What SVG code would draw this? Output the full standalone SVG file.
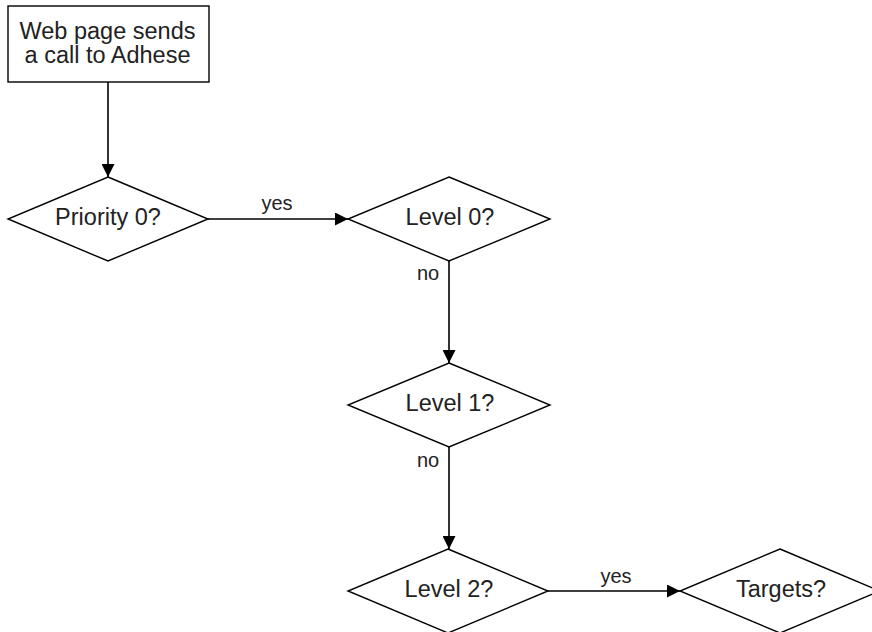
<svg xmlns="http://www.w3.org/2000/svg" width="872" height="632" viewBox="0 0 872 632">
<defs>
<marker id="arrv" viewBox="0 0 12 12" refX="12" refY="6" markerWidth="13" markerHeight="13" markerUnits="userSpaceOnUse" orient="auto">
<path d="M0,0 L12,6 L0,12 z" fill="#000"/>
</marker>
</defs>
<style>
.n{fill:#fff;stroke:#000;stroke-width:1.4}
.t{font-family:"Liberation Sans",Arial,sans-serif;font-size:23.5px;fill:#222;text-anchor:middle}
.l{font-family:"Liberation Sans",Arial,sans-serif;font-size:20px;fill:#222;text-anchor:middle}
.c{stroke:#000;stroke-width:1.6;fill:none}
</style>
<rect width="872" height="632" fill="#fff"/>
<g id="connectors">
<line class="c" x1="108" y1="82" x2="108" y2="177" marker-end="url(#arrv)"/>
<line class="c" x1="208" y1="219" x2="348" y2="219" marker-end="url(#arrv)"/>
<line class="c" x1="449" y1="261" x2="449" y2="363" marker-end="url(#arrv)"/>
<line class="c" x1="449" y1="447" x2="449" y2="549" marker-end="url(#arrv)"/>
<line class="c" x1="548" y1="591" x2="680" y2="591" marker-end="url(#arrv)"/>
<text class="l" x="277" y="210">yes</text>
<text class="l" x="428" y="280">no</text>
<text class="l" x="428" y="467">no</text>
<text class="l" x="616" y="583">yes</text>
</g>
<g id="start">
<rect class="n" x="8" y="6" width="201" height="76"/>
<text class="t" x="107.5" y="38.5">Web page sends</text>
<text class="t" x="107.5" y="63">a call to Adhese</text>
</g>
<g id="priority0">
<polygon class="n" points="108,177 208,219 108,261 8,219"/>
<text class="t" x="108" y="225">Priority 0?</text>
</g>
<g id="level0">
<polygon class="n" points="449,177 550,219 449,261 348,219"/>
<text class="t" x="450" y="225">Level 0?</text>
</g>
<g id="level1">
<polygon class="n" points="449,363 550,405 449,447 348,405"/>
<text class="t" x="450" y="411">Level 1?</text>
</g>
<g id="level2">
<polygon class="n" points="448,549 548,591 448,633 348,591"/>
<text class="t" x="449" y="597">Level 2?</text>
</g>
<g id="targets">
<polygon class="n" points="780,549 880,591 780,633 680,591"/>
<text class="t" x="781" y="597">Targets?</text>
</g>
</svg>
